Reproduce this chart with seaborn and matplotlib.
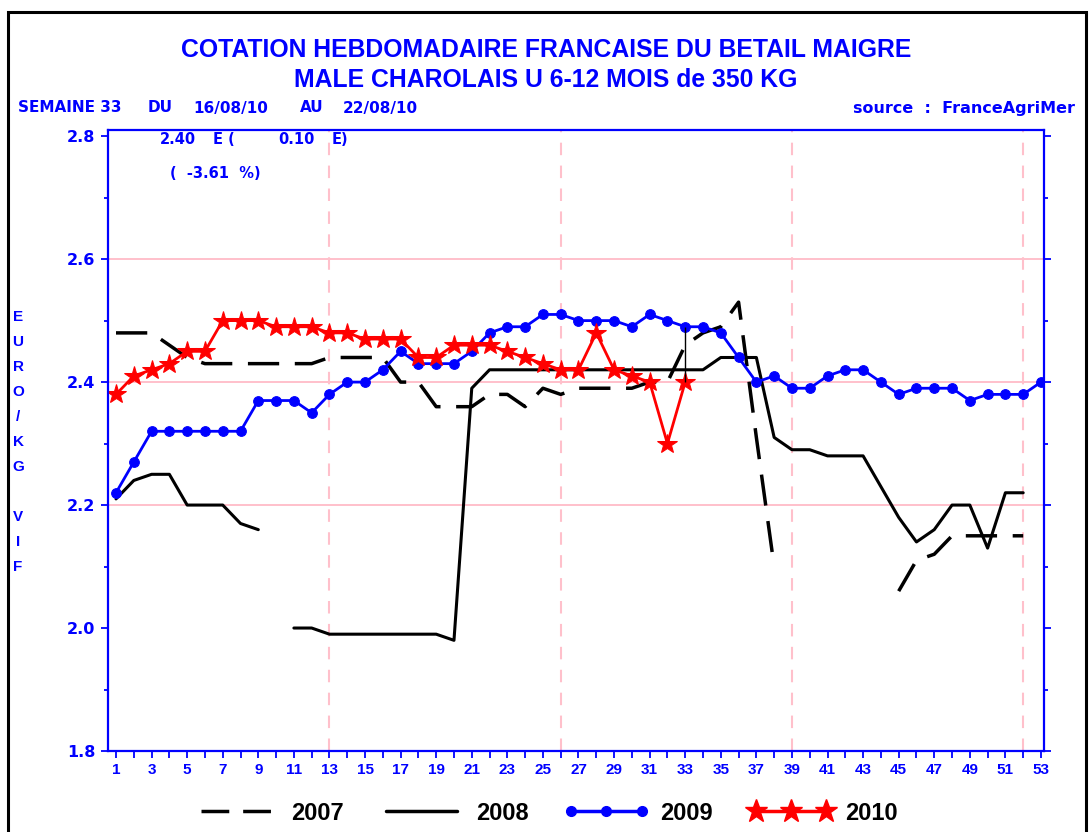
import numpy as np
import pandas as pd
import matplotlib
matplotlib.use("Agg")
import matplotlib.pyplot as plt
import seaborn as sns
from matplotlib.lines import Line2D
from matplotlib.patches import Rectangle

# ---------------- data ----------------
nan = np.nan
weeks = list(range(1, 54))

price_2007 = [2.48, 2.48, 2.48, 2.46, 2.44, 2.43, 2.43, 2.43, 2.43, 2.43,
              2.43, 2.43, 2.44, 2.44, 2.44, 2.44, 2.40, 2.40, 2.36, 2.36,
              2.36, 2.38, 2.38, 2.36, 2.39, 2.38, 2.39, 2.39, 2.39, 2.39,
              2.40, 2.40, 2.46, 2.48, 2.49, 2.53, 2.31, 2.10, nan, nan,
              nan, nan, nan, nan, 2.06, 2.11, 2.12, 2.15, 2.15, 2.15,
              2.15, 2.15, nan]

price_2008 = [2.21, 2.24, 2.25, 2.25, 2.20, 2.20, 2.20, 2.17, 2.16, nan,
              2.00, 2.00, 1.99, 1.99, 1.99, 1.99, 1.99, 1.99, 1.99, 1.98,
              2.39, 2.42, 2.42, 2.42, 2.42, 2.42, 2.42, 2.42, 2.42, 2.42,
              2.42, 2.42, 2.42, 2.42, 2.44, 2.44, 2.44, 2.31, 2.29, 2.29,
              2.28, 2.28, 2.28, 2.23, 2.18, 2.14, 2.16, 2.20, 2.20, 2.13,
              2.22, 2.22, nan]

price_2009 = [2.22, 2.27, 2.32, 2.32, 2.32, 2.32, 2.32, 2.32, 2.37, 2.37,
              2.37, 2.35, 2.38, 2.40, 2.40, 2.42, 2.45, 2.43, 2.43, 2.43,
              2.45, 2.48, 2.49, 2.49, 2.51, 2.51, 2.50, 2.50, 2.50, 2.49,
              2.51, 2.50, 2.49, 2.49, 2.48, 2.44, 2.40, 2.41, 2.39, 2.39,
              2.41, 2.42, 2.42, 2.40, 2.38, 2.39, 2.39, 2.39, 2.37, 2.38,
              2.38, 2.38, 2.40]

price_2010 = [2.38, 2.41, 2.42, 2.43, 2.45, 2.45, 2.50, 2.50, 2.50, 2.49,
              2.49, 2.49, 2.48, 2.48, 2.47, 2.47, 2.47, 2.44, 2.44, 2.46,
              2.46, 2.46, 2.45, 2.44, 2.43, 2.42, 2.42, 2.48, 2.42, 2.41,
              2.40, 2.30, 2.40]
weeks_2010 = weeks[:len(price_2010)]

current_week = 33
quarter_weeks = [13, 26, 39, 52]
grid_levels = [2.2, 2.4, 2.6]
y_major = [1.8, 2.0, 2.2, 2.4, 2.6, 2.8]
y_minor = [1.9, 2.1, 2.3, 2.5, 2.7]


def runs_frame(vals):
    # split a series with gaps into separate runs so lines break at NaN
    df = pd.DataFrame({"week": weeks, "price": vals})
    df["run"] = df["price"].isna().cumsum()
    return df.dropna()


df_2007 = runs_frame(price_2007)
df_2008 = runs_frame(price_2008)

# ---------------- style ----------------
sns.set_style("white")
plt.rcParams["font.family"] = ["Liberation Sans", "DejaVu Sans"]
plt.rcParams["font.weight"] = "bold"
plt.rcParams["text.color"] = "black"

BLUE = "#0000FF"
RED = "#FF0000"
PINK = "#FFC0CB"
WIDE = ["DejaVu Sans"]

W, H = 1092, 832
fig = plt.figure(figsize=(W / 100, H / 100), dpi=100)
ax = fig.add_axes([108 / W, 1 - 751 / H, (1044 - 108) / W, (751 - 130) / H])

# reference lines
for lvl in grid_levels:
    ax.axhline(lvl, color=PINK, lw=1.4, zorder=0)
for wk in quarter_weeks:
    ax.axvline(wk, color=PINK, lw=1.5, dashes=(6, 5), zorder=0)

# series
sns.lineplot(data=df_2007, x="week", y="price", units="run", estimator=None,
             color="black", lw=2.5, ax=ax, legend=False)
for line in ax.get_lines()[-df_2007["run"].nunique():]:
    line.set_dashes((9, 4.5))
sns.lineplot(data=df_2008, x="week", y="price", units="run", estimator=None,
             color="black", lw=2.2, ax=ax, legend=False)
sns.lineplot(x=weeks, y=price_2009, color=BLUE, lw=2, marker="o",
             markersize=7, markeredgecolor=BLUE, ax=ax, legend=False)
sns.lineplot(x=weeks_2010, y=price_2010, color=RED, lw=2, marker="*",
             markersize=15, markeredgecolor=RED, ax=ax, legend=False)

# gap between current week 2010 and same week 2009
i = current_week - 1
ax.vlines(current_week, price_2010[i], price_2009[i], color="black", lw=1)

# axes
ax.set_xlim(0.55, 53.17)
ax.set_ylim(1.8, 2.81)
ax.set_xlabel("")
ax.set_ylabel("")
for sp in ax.spines.values():
    sp.set_color(BLUE)
    sp.set_linewidth(1.6)

ax.set_xticks(weeks)
ax.set_xticklabels([str(w) if w % 2 else "" for w in weeks])
ax.set_yticks(y_major)
ax.set_yticklabels([f"{v:.1f}" for v in y_major])
ax.set_yticks(y_minor, minor=True)
ax.tick_params(axis="x", which="major", direction="out", length=5, width=1.3,
               color=BLUE, labelcolor=BLUE, labelsize=11, pad=4, bottom=True)
ax.tick_params(axis="y", which="major", direction="out", length=5, width=1.3,
               color=BLUE, labelcolor=BLUE, labelsize=11.5, pad=4,
               left=True, right=True)
ax.tick_params(axis="y", which="minor", direction="out", length=3, width=1.3,
               color=BLUE, left=True, right=True)
for lab in ax.get_xticklabels():
    lab.set_fontweight("bold")
for lab in ax.get_yticklabels():
    lab.set_fontweight("bold")
    lab.set_family(WIDE)

# annotations inside the plot
for x, s in [(160, "2.40"), (213, "E ("), (278, "0.10"), (332, "E)")]:
    fig.text(x / W, 1 - 140 / H, s, color=BLUE, fontsize=10.5,
             fontweight="bold", va="center", ha="left", family=WIDE)
fig.text(170 / W, 1 - 174 / H, "(  -3.61  %)", color=BLUE, fontsize=10.5,
         fontweight="bold", va="center", ha="left", family=WIDE)

# titles and header
fig.text(0.5, 1 - 50 / H, "COTATION HEBDOMADAIRE FRANCAISE DU BETAIL MAIGRE",
         color=BLUE, fontsize=17.8, fontweight="bold", ha="center", va="center")
fig.text(0.5, 1 - 80 / H, "MALE CHAROLAIS U 6-12 MOIS de 350 KG",
         color=BLUE, fontsize=17.8, fontweight="bold", ha="center", va="center")
for x, s in [(18, "SEMAINE 33"), (148, "DU"), (193, "16/08/10"),
             (300, "AU"), (343, "22/08/10")]:
    fig.text(x / W, 1 - 108 / H, s, color=BLUE, fontsize=11,
             fontweight="bold", ha="left", va="center", family=WIDE)
fig.text(853 / W, 1 - 108 / H, "source  :  FranceAgriMer", color=BLUE,
         fontsize=11.5, fontweight="bold", ha="left", va="center", family=WIDE)

# stacked y label
fig.text(18 / W, 1 - 442 / H, "\n".join("EURO/KG VIF"), color=BLUE,
         fontsize=11, fontweight="bold", ha="center", va="center",
         linespacing=2.0)

# legend
handles = [
    Line2D([], [], color="black", lw=2.5, dashes=(8, 4)),
    Line2D([], [], color="black", lw=2.5),
    Line2D([], [], color=BLUE, lw=2.5, marker="o", markersize=7),
    Line2D([], [], color=RED, lw=2.5, marker="*", markersize=17),
]
fig.legend(handles, ["2007", "2008", "2009", "2010"], loc="center",
           bbox_to_anchor=(0.5, 1 - 813 / H), ncol=4, frameon=False,
           numpoints=3, handlelength=3.6, handletextpad=0.5, columnspacing=1.5,
           prop={"size": 17, "weight": "bold"})

# outer frame
fig.patches.append(Rectangle((8 / W, -0.05), (1086 - 8) / W, 1.05 - 12 / H,
                             transform=fig.transFigure, fill=False,
                             edgecolor="black", lw=2.2, zorder=10))

fig.savefig("out.png", dpi=100)
